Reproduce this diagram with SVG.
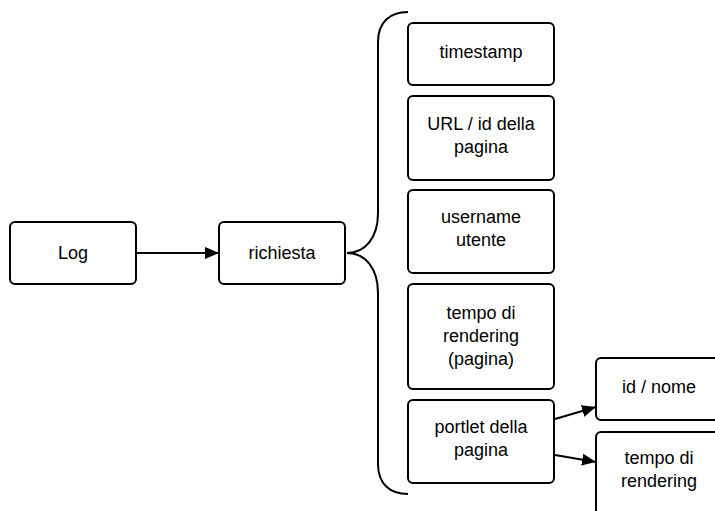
<svg xmlns="http://www.w3.org/2000/svg" width="715" height="511" viewBox="0 0 715 511">
<defs>
<style>
.box{fill:#fff;stroke:#000;stroke-width:2}
.t{font-family:"Liberation Sans",Arial,sans-serif;font-size:18px;fill:#000;text-anchor:middle}
.c{fill:none;stroke:#000;stroke-width:2}
</style>
<marker id="ah" markerWidth="14" markerHeight="12" refX="14" refY="6" orient="auto" markerUnits="userSpaceOnUse">
<path d="M0,0 L14,6 L0,12 Z" fill="#000"/>
</marker>
</defs>
<rect width="715" height="511" fill="#fff"/>
<g id="connectors">
<path class="c" d="M136,253 L219,253" marker-end="url(#ah)"/>
<path class="c" d="M555,419 L596,407" marker-end="url(#ah)"/>
<path class="c" d="M555,455 L596,462" marker-end="url(#ah)"/>
<path class="c" d="M408,12 C390,12 378,22 378,42 L378,213 C378,238 365,253 347,253 C365,253 378,268 378,293 L378,464 C378,484 390,494 408,494"/>
</g>
<g id="log"><rect class="box" x="10" y="222" width="126" height="62" rx="5"/><text class="t" x="73" y="259">Log</text></g>
<g id="richiesta"><rect class="box" x="219" y="222" width="126" height="62" rx="5"/><text class="t" x="282" y="259">richiesta</text></g>
<g id="timestamp"><rect class="box" x="408" y="23" width="146" height="62" rx="5"/><text class="t" x="481" y="58">timestamp</text></g>
<g id="url"><rect class="box" x="408" y="96" width="146" height="84" rx="5"/><text class="t" x="481" y="130">URL / id della</text><text class="t" x="481" y="153">pagina</text></g>
<g id="username"><rect class="box" x="408" y="190" width="146" height="83" rx="5"/><text class="t" x="481" y="223">username</text><text class="t" x="481" y="246">utente</text></g>
<g id="tempo-pagina"><rect class="box" x="408" y="284" width="146" height="105" rx="5"/><text class="t" x="481" y="319">tempo di</text><text class="t" x="481" y="342">rendering</text><text class="t" x="481" y="365">(pagina)</text></g>
<g id="portlet"><rect class="box" x="408" y="400" width="146" height="83" rx="5"/><text class="t" x="481" y="433">portlet della</text><text class="t" x="481" y="456">pagina</text></g>
<g id="id-nome"><rect class="box" x="596" y="358" width="126" height="62" rx="5"/><text class="t" x="659" y="393">id / nome</text></g>
<g id="tempo-portlet"><rect class="box" x="596" y="432" width="126" height="100" rx="5"/><text class="t" x="659" y="464">tempo di</text><text class="t" x="659" y="487">rendering</text></g>
</svg>
